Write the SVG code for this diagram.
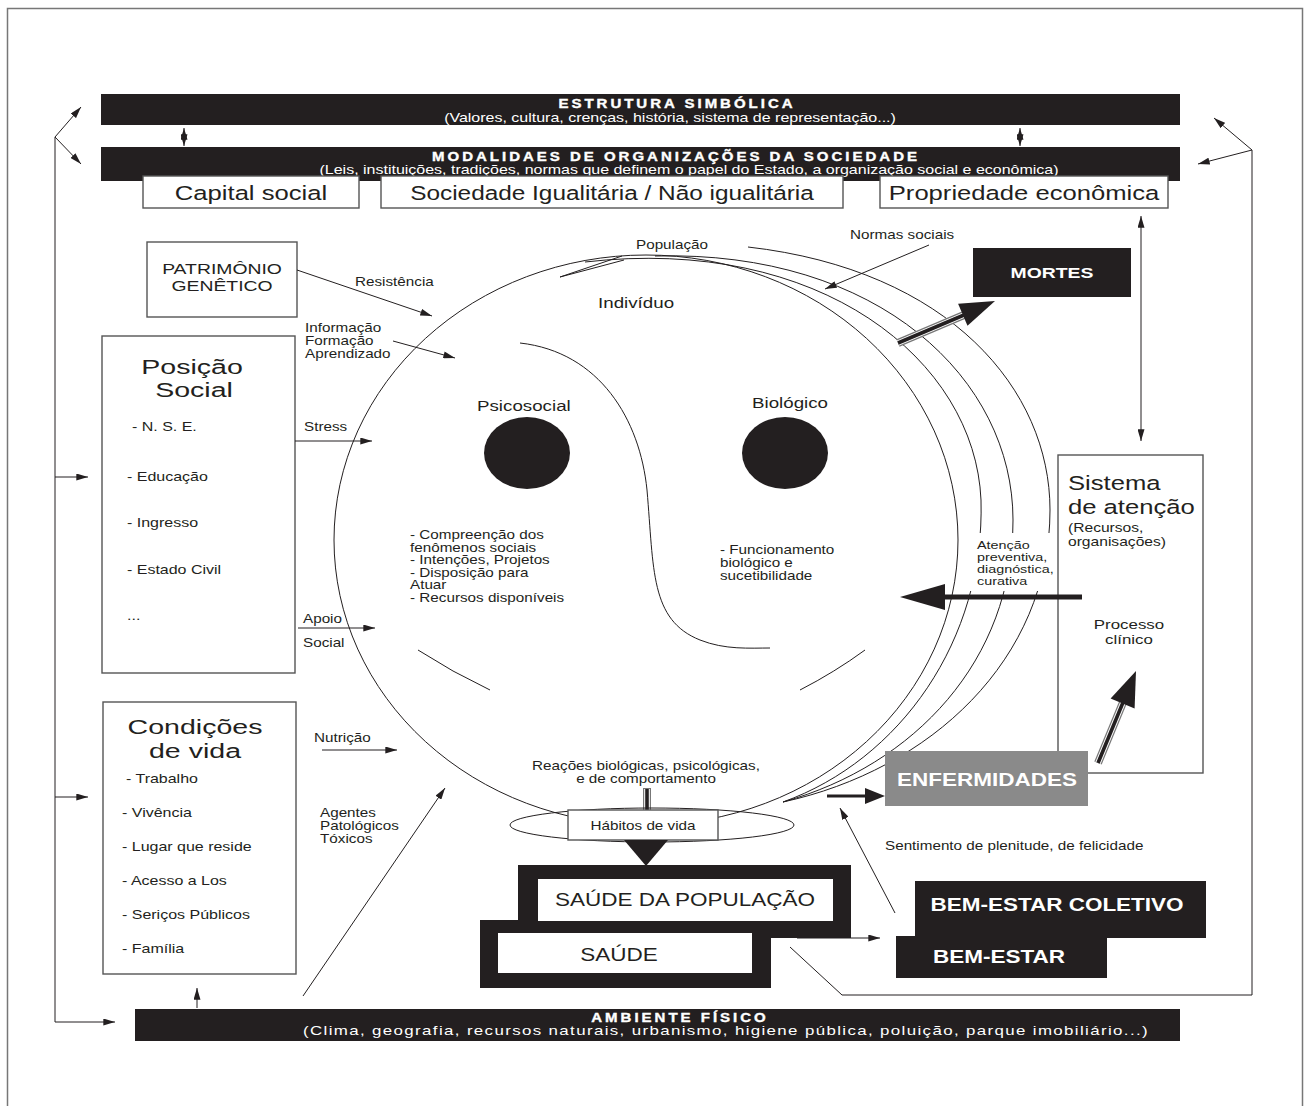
<svg xmlns="http://www.w3.org/2000/svg" width="1306" height="1106" viewBox="0 0 1306 1106">
  <style>
    .f{font-family:"Liberation Sans",Arial,Helvetica,sans-serif;fill:#231f20}
    .m{text-anchor:middle}
    .w{fill:#fff}
    .b{font-weight:bold}
    .bt{font-weight:bold;letter-spacing:2.4px;font-size:12px;stroke:#fff;stroke-width:0.35}
    .sub{font-size:12.8px}
    .big{font-size:21px}
    .bx{font-size:20.5px}
    .lab{font-size:15px}
    .li{font-size:12.8px}
    .sm{font-size:12.2px}
    .xs{font-size:11.5px}
    .ln{fill:none;stroke:#231f20;stroke-width:1}
    .box{fill:#fff;stroke:#555;stroke-width:1.4}
    .blk{fill:#231f20}
    .ar{fill:none;stroke:#231f20;stroke-width:1;marker-end:url(#ah)}
    .ar2{fill:none;stroke:#231f20;stroke-width:1;marker-start:url(#ah);marker-end:url(#ah)}
    .d1{fill:none;stroke:#777;stroke-width:8}
    .d2{fill:none;stroke:#fff;stroke-width:5.6}
    .d3{fill:none;stroke:#231f20;stroke-width:3.6}
  </style>
  <defs>
    <marker id="ah" viewBox="0 0 10 6" refX="10" refY="3" markerWidth="12" markerHeight="7" markerUnits="userSpaceOnUse" orient="auto-start-reverse">
      <path d="M0,0 L10,3 L0,6 z" fill="#231f20"/>
    </marker>
  </defs>

  <rect x="0" y="0" width="1306" height="1106" fill="#fff"/>
  <rect id="frame" x="7.5" y="8.5" width="1295" height="1110" fill="none" stroke="#777" stroke-width="1.5"/>

  <!-- top bars -->
  <g id="bar-estrutura">
    <rect class="blk" x="101" y="94" width="1079" height="31"/>
    <text class="f w bt m" transform="translate(677 108) scale(1.25 1)">ESTRUTURA SIMBÓLICA</text>
    <text class="f w sub m" transform="translate(670 122) scale(1.25 1)">(Valores, cultura, crenças, história, sistema de representação...)</text>
  </g>
  <g id="bar-modalidades">
    <rect class="blk" x="101" y="147" width="1079" height="34"/>
    <text class="f w bt m" transform="translate(676 161) scale(1.25 1)">MODALIDAES DE ORGANIZAÇÕES DA SOCIEDADE</text>
    <text class="f w sub m" transform="translate(689 174) scale(1.25 1)">(Leis, instituições, tradições, normas que definem o papel do Estado, a organização social e econômica)</text>
  </g>
  <g id="box-capital">
    <rect class="box" x="143" y="176" width="216" height="32"/>
    <text class="f bx m" transform="translate(251 200) scale(1.25 1)">Capital social</text>
  </g>
  <g id="box-sociedade">
    <rect class="box" x="381" y="176" width="462" height="32"/>
    <text class="f m" font-size="19.5" transform="translate(612 200) scale(1.25 1)">Sociedade Igualitária / Não igualitária</text>
  </g>
  <g id="box-propriedade">
    <rect class="box" x="880" y="176" width="288" height="32"/>
    <text class="f bx m" transform="translate(1024 200) scale(1.25 1)">Propriedade econômica</text>
  </g>

  <!-- left boxes -->
  <g id="box-patrimonio">
    <rect class="box" x="147" y="242" width="150" height="75"/>
    <text class="f m" font-size="15.5" transform="translate(222 274) scale(1.25 1)">PATRIMÔNIO</text>
    <text class="f m" font-size="15.5" transform="translate(222 291) scale(1.25 1)">GENÊTICO</text>
  </g>
  <g id="box-posicao">
    <rect class="box" x="102" y="336" width="193" height="337"/>
    <text class="f big m" transform="translate(192 374) scale(1.36 1)">Posição</text>
    <text class="f big m" transform="translate(194 397) scale(1.36 1)">Social</text>
    <text class="f li" transform="translate(132 431) scale(1.25 1)">- N. S. E.</text>
    <text class="f li" transform="translate(127 481) scale(1.25 1)">- Educação</text>
    <text class="f li" transform="translate(127 527) scale(1.25 1)">- Ingresso</text>
    <text class="f li" transform="translate(127 574) scale(1.25 1)">- Estado Civil</text>
    <text class="f li" transform="translate(127 620) scale(1.25 1)">...</text>
  </g>
  <g id="box-condicoes">
    <rect class="box" x="103" y="702" width="193" height="272"/>
    <text class="f big m" transform="translate(195 734) scale(1.36 1)">Condições</text>
    <text class="f big m" transform="translate(195 758) scale(1.36 1)">de vida</text>
    <text class="f li" transform="translate(126 783) scale(1.25 1)">- Trabalho</text>
    <text class="f li" transform="translate(122 817) scale(1.25 1)">- Vivência</text>
    <text class="f li" transform="translate(122 851) scale(1.25 1)">- Lugar que reside</text>
    <text class="f li" transform="translate(122 885) scale(1.25 1)">- Acesso a Los</text>
    <text class="f li" transform="translate(122 919) scale(1.25 1)">- Seriços Públicos</text>
    <text class="f li" transform="translate(122 953) scale(1.25 1)">- Família</text>
  </g>

  <!-- population layers around the individual -->
  <g id="populacao">
    <path class="ln" d="M585,262 C820,235 975,360 981,500 C985,640 900,760 783,802"/>
    <path class="ln" d="M655,256 C880,250 1013,380 1013,520 C1013,660 915,765 783,802"/>
    <path class="ln" d="M748,247 C950,270 1050,390 1050,510 C1050,660 930,770 783,802"/>
    <path class="ln" d="M560,277 L622,256 M560,277 L624,260"/>
    <rect x="966" y="533" width="88" height="58" fill="#fff"/>
    <text class="f sm" transform="translate(636 249) scale(1.25 1)">População</text>
  </g>

  <!-- the individual: face with two eyes -->
  <g id="individuo">
    <ellipse class="ln" cx="646" cy="540" rx="312" ry="285"/>
    <path class="ln" d="M520,343 C600,352 640,420 647,490 C654,570 650,620 700,640 C725,650 750,648 770,648"/>
    <path class="ln" d="M418,650 Q452,672 490,690"/>
    <path class="ln" d="M865,650 Q835,672 800,690"/>
    <ellipse class="blk" cx="527" cy="453" rx="43" ry="36"/>
    <ellipse class="blk" cx="785" cy="453" rx="43" ry="36"/>
    <text class="f lab" transform="translate(598 308) scale(1.25 1)">Indivíduo</text>
    <text class="f lab" transform="translate(477 411) scale(1.25 1)">Psicosocial</text>
    <text class="f lab" transform="translate(752 408) scale(1.25 1)">Biológico</text>
    <text class="f sm" transform="translate(410 539) scale(1.25 1)">- Compreenção dos</text>
    <text class="f sm" transform="translate(410 552) scale(1.25 1)">fenômenos sociais</text>
    <text class="f sm" transform="translate(410 564) scale(1.25 1)">- Intenções, Projetos</text>
    <text class="f sm" transform="translate(410 577) scale(1.25 1)">- Disposição para</text>
    <text class="f sm" transform="translate(410 589) scale(1.25 1)">Atuar</text>
    <text class="f sm" transform="translate(410 602) scale(1.25 1)">- Recursos disponíveis</text>
    <text class="f sm" transform="translate(720 554) scale(1.25 1)">- Funcionamento</text>
    <text class="f sm" transform="translate(720 567) scale(1.25 1)">biológico e</text>
    <text class="f sm" transform="translate(720 580) scale(1.25 1)">sucetibilidade</text>
  </g>

  <g id="box-mortes">
    <rect class="blk" x="973" y="248" width="158" height="49"/>
    <text class="f w b m" font-size="15.5" transform="translate(1052 278) scale(1.25 1)">MORTES</text>
  </g>

  <g id="box-sistema">
    <rect class="box" x="1058" y="455" width="145" height="318"/>
    <text class="f" font-size="20.5" transform="translate(1068 490) scale(1.25 1)">Sistema</text>
    <text class="f" font-size="20.5" transform="translate(1068 514) scale(1.25 1)">de atenção</text>
    <text class="f" font-size="12.5" transform="translate(1068 532) scale(1.25 1)">(Recursos,</text>
    <text class="f" font-size="12.5" transform="translate(1068 546) scale(1.25 1)">organisações)</text>
    <text class="f m" font-size="13.5" transform="translate(1129 629) scale(1.25 1)">Processo</text>
    <text class="f m" font-size="13.5" transform="translate(1129 644) scale(1.25 1)">clínico</text>
  </g>

  <g id="atencao-label">
    <text class="f xs" transform="translate(977 549) scale(1.25 1)">Atenção</text>
    <text class="f xs" transform="translate(977 561) scale(1.25 1)">preventiva,</text>
    <text class="f xs" transform="translate(977 573) scale(1.25 1)">diagnóstica,</text>
    <text class="f xs" transform="translate(977 585) scale(1.25 1)">curativa</text>
  </g>

  <g id="box-enfermidades">
    <rect x="885" y="751" width="203" height="55" fill="#8a8a8a"/>
    <text class="f w b m" font-size="18" transform="translate(987 786) scale(1.25 1)">ENFERMIDADES</text>
  </g>

  <!-- life habits, with the reactions arrow passing through -->
  <g id="habitos">
    <text class="f sm m" transform="translate(646 770) scale(1.25 1)">Reações biológicas, psicológicas,</text>
    <text class="f sm m" transform="translate(646 783) scale(1.25 1)">e de comportamento</text>
    <line class="d1" x1="647" y1="788" x2="647" y2="842"/>
    <line class="d2" x1="647" y1="789" x2="647" y2="842"/>
    <line class="d3" x1="647" y1="789" x2="647" y2="842"/>
    <ellipse class="ln" cx="652" cy="825" rx="142" ry="17"/>
    <rect class="box" x="568" y="810" width="150" height="30"/>
    <text class="f sm m" transform="translate(643 830) scale(1.25 1)">Hábitos de vida</text>
    <polygon class="blk" points="624,840 668,840 646,866"/>
  </g>

  <g id="box-saude-populacao">
    <rect class="blk" x="518" y="865" width="333" height="73"/>
  </g>
  <g id="box-saude">
    <rect class="blk" x="480" y="920" width="291" height="68"/>
    <rect fill="#fff" x="498" y="933" width="254" height="40"/>
    <text class="f m" font-size="18" transform="translate(619 961) scale(1.25 1)">SAÚDE</text>
  </g>
  <g id="saude-populacao-label">
    <rect fill="#fff" x="538" y="879" width="295" height="42"/>
    <text class="f m" font-size="18" transform="translate(685 906) scale(1.25 1)">SAÚDE DA POPULAÇÃO</text>
  </g>

  <g id="box-bem-estar-coletivo">
    <rect class="blk" x="915" y="881" width="291" height="57"/>
    <text class="f w b m" font-size="18" transform="translate(1057 911) scale(1.25 1)">BEM-ESTAR COLETIVO</text>
  </g>
  <g id="box-bem-estar">
    <rect class="blk" x="896" y="936" width="211" height="42"/>
    <text class="f w b" font-size="18" transform="translate(933 963) scale(1.25 1)">BEM-ESTAR</text>
  </g>
  <text class="f sm" transform="translate(885 850) scale(1.25 1)">Sentimento de plenitude, de felicidade</text>

  <g id="bar-ambiente">
    <rect class="blk" x="135" y="1009" width="1045" height="32"/>
    <text class="f w bt m" transform="translate(680 1022) scale(1.25 1)">AMBIENTE FÍSICO</text>
    <text class="f w m" font-size="13.5" letter-spacing="1.1" transform="translate(726 1035) scale(1.25 1)">(Clima, geografia, recursos naturais, urbanismo, higiene pública, poluição, parque imobiliário...)</text>
  </g>

  <!-- connectors -->
  <g id="connectors">
    <!-- left feedback loop -->
    <path class="ln" d="M55,137 L55,1022"/>
    <path class="ar" d="M55,137 L81,107"/>
    <path class="ar" d="M55,137 L81,164"/>
    <path class="ar" d="M55,477 L88,477"/>
    <path class="ar" d="M55,797 L88,797"/>
    <path class="ar" d="M55,1022 L115,1022"/>
    <!-- right feedback loop -->
    <path class="ar" d="M1252,150 L1214,118"/>
    <path class="ar" d="M1252,150 L1198,164"/>
    <path class="ln" d="M1252,150 L1252,995 L842,995 L790,947"/>
    <!-- between bars -->
    <path class="ar2" d="M184,128 L184,146"/>
    <path class="ar2" d="M1020,128 L1020,146"/>
    <path class="ar2" d="M1141,216 L1141,441"/>
    <!-- influences on the individual -->
    <path class="ar" d="M297,270 L432,316"/>
    <path class="ar" d="M393,341 L455,358"/>
    <path class="ar" d="M295,441 L372,441"/>
    <path class="ar" d="M298,628 L375,628"/>
    <path class="ar" d="M322,750 L397,750"/>
    <path class="ar" d="M303,996 L445,788"/>
    <path class="ar" d="M197,1008 L197,988"/>
    <path class="ar" d="M929,245 L825,289"/>
    <path class="ar" d="M797,938 L880,938"/>
    <path class="ar" d="M895,913 L840,808"/>
    <!-- heavy arrows -->
    <line class="d1" x1="898" y1="343" x2="964" y2="315"/>
    <line class="d2" x1="898" y1="343" x2="964" y2="315"/>
    <line class="d3" x1="898" y1="343" x2="964" y2="315"/>
    <polygon class="blk" points="995,301 967.5,325.8 958.1,303.8"/>
    <line class="d1" x1="1098" y1="763" x2="1124" y2="700"/>
    <line class="d2" x1="1098" y1="763" x2="1124" y2="700"/>
    <line class="d3" x1="1098" y1="763" x2="1124" y2="700"/>
    <polygon class="blk" points="1136,671 1134.6,708.4 1110.6,698.4"/>
    <line x1="1082" y1="597" x2="940" y2="597" stroke="#231f20" stroke-width="5"/>
    <polygon class="blk" points="900,597 945,584 945,610"/>
    <line x1="827" y1="796" x2="868" y2="796" stroke="#231f20" stroke-width="3"/>
    <polygon class="blk" points="885,796 865,788 865,804"/>
  </g>

  <!-- arrow labels -->
  <g id="labels">
    <text class="f sm" transform="translate(355 286) scale(1.25 1)">Resistência</text>
    <text class="f sm" transform="translate(305 332) scale(1.25 1)">Informação</text>
    <text class="f sm" transform="translate(305 345) scale(1.25 1)">Formação</text>
    <text class="f sm" transform="translate(305 358) scale(1.25 1)">Aprendizado</text>
    <text class="f sm" transform="translate(304 431) scale(1.25 1)">Stress</text>
    <text class="f sm" transform="translate(303 623) scale(1.25 1)">Apoio</text>
    <text class="f sm" transform="translate(303 647) scale(1.25 1)">Social</text>
    <text class="f sm" transform="translate(314 742) scale(1.25 1)">Nutrição</text>
    <text class="f sm" transform="translate(320 817) scale(1.25 1)">Agentes</text>
    <text class="f sm" transform="translate(320 830) scale(1.25 1)">Patológicos</text>
    <text class="f sm" transform="translate(320 843) scale(1.25 1)">Tóxicos</text>
    <text class="f sm" transform="translate(850 239) scale(1.25 1)">Normas sociais</text>
  </g>
</svg>
